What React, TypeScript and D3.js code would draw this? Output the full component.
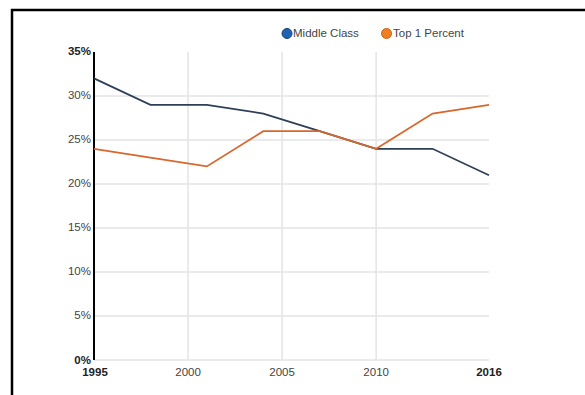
import React from "react";
import * as d3 from "d3";

const years = [1995, 1998, 2001, 2004, 2007, 2010, 2013, 2016];
const middleClass = [32, 29, 29, 28, 26, 24, 24, 21];
const top1Percent = [24, 23, 22, 26, 26, 24, 28, 29];
const yTicks = [0, 5, 10, 15, 20, 25, 30, 35];
const xTicks = [1995, 2000, 2005, 2010, 2016];
const seriesNames = ["Middle Class", "Top 1 Percent"];

const W = 585;
const H = 395;

export default function App() {
  const x = d3.scaleLinear().domain([1995, 2016]).range([94, 489]);
  const y = d3.scaleLinear().domain([0, 35]).range([360, 52]);
  const line = d3
    .line<number>()
    .x((_, i) => x(years[i]))
    .y((d) => y(d));

  const font = "'Liberation Sans', Arial, sans-serif";
  const boldY = (v: number) => v === 0 || v === 35;
  const boldX = (v: number) => v === 1995 || v === 2016;

  return (
    <svg
      width={W}
      height={H}
      style={{ position: "absolute", left: 0, top: 0, background: "#fff" }}
      fontFamily={font}
    >
      <rect x={0} y={0} width={W} height={H} fill="#fff" />
      {/* frame */}
      <rect x={12} y={10} width={W + 20} height={H + 20} fill="none" stroke="#000" strokeWidth={2.5} />

      {/* horizontal gridlines */}
      {yTicks
        .filter((t) => t !== 35)
        .map((t) => (
          <line key={"h" + t} x1={x(1995)} x2={x(2016)} y1={y(t)} y2={y(t)} stroke="#e4e4e4" strokeWidth={1.5} />
        ))}
      {/* vertical gridlines */}
      {xTicks
        .filter((t) => !boldX(t))
        .map((t) => (
          <line key={"v" + t} x1={x(t)} x2={x(t)} y1={y(35)} y2={y(0)} stroke="#e4e4e4" strokeWidth={1.5} />
        ))}

      {/* y axis */}
      <line x1={x(1995)} x2={x(1995)} y1={y(35)} y2={y(0)} stroke="#000" strokeWidth={2} />

      {/* y labels */}
      {yTicks.map((t) => (
        <text
          key={"yl" + t}
          x={91}
          y={y(t) + (t === 0 ? 1 : 0)}
          textAnchor="end"
          dominantBaseline="middle"
          fontSize={11.5}
          fontWeight={boldY(t) ? "bold" : "normal"}
          fill={boldY(t) ? "#222" : "#444"}
        >
          {t}%
        </text>
      ))}

      {/* x labels */}
      {xTicks.map((t) => (
        <text
          key={"xl" + t}
          x={x(t) + (t === 1995 ? 1 : 0)}
          y={373}
          textAnchor="middle"
          dominantBaseline="middle"
          fontSize={11.5}
          fontWeight={boldX(t) ? "bold" : "normal"}
          fill={boldX(t) ? "#222" : "#444"}
        >
          {t}
        </text>
      ))}

      {/* lines */}
      <path d={line(middleClass) || ""} fill="none" stroke="#2e3f58" strokeWidth={1.8} />
      <path d={line(top1Percent) || ""} fill="none" stroke="#d8672c" strokeWidth={1.8} />

      {/* legend */}
      <circle cx={287} cy={33.5} r={5} fill="#1f62b0" stroke="#1a3e6e" strokeWidth={1} />
      <text x={293} y={34} fontSize={11.5} fill="#444" dominantBaseline="middle">
        {seriesNames[0]}
      </text>
      <circle cx={386.5} cy={33.5} r={5} fill="#f07e22" stroke="#c86418" strokeWidth={1} />
      <text x={393} y={34} fontSize={11.5} fill="#444" dominantBaseline="middle">
        {seriesNames[1]}
      </text>
    </svg>
  );
}
